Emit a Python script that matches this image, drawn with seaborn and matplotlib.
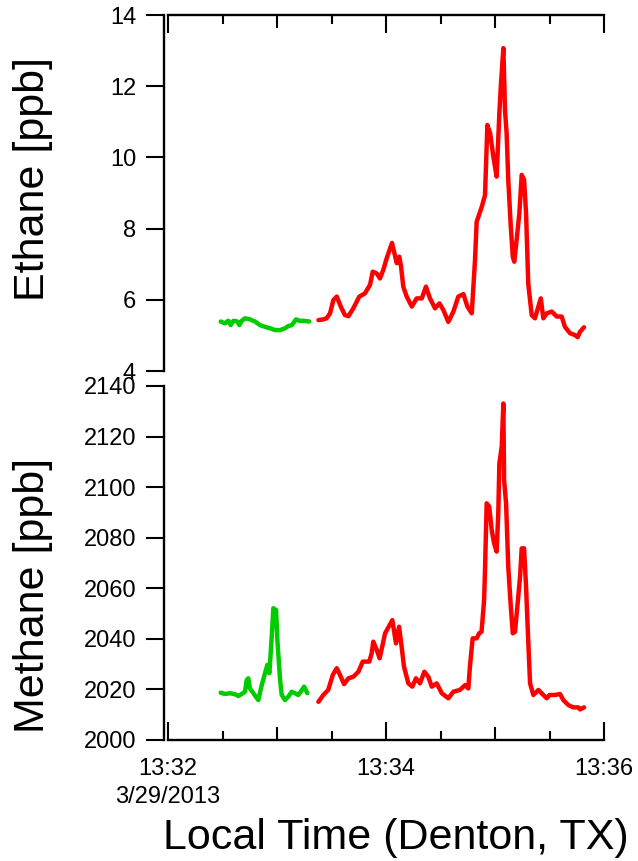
import datetime as dt
import pandas as pd
import matplotlib
matplotlib.use("Agg")
import matplotlib.pyplot as plt
import matplotlib.dates as mdates
import matplotlib.ticker as mticker
import seaborn as sns

# seconds after 13:32:00 on 3/29/2013, values in ppb
eth_green_t = [29.0, 31.4, 33.2, 34.5, 36.0, 38.2, 39.3, 40.6, 42.4, 45.1, 47.9, 50.6, 53.4,
               56.2, 58.9, 61.7, 64.4, 66.2, 68.1, 70.5, 72.3, 74.5, 77.8]
eth_green_v = [5.39, 5.34, 5.41, 5.29, 5.41, 5.39, 5.29, 5.41, 5.48, 5.45, 5.39, 5.29, 5.24,
               5.20, 5.15, 5.15, 5.20, 5.26, 5.29, 5.45, 5.41, 5.41, 5.39]

eth_red_t = [82.8, 85.5, 87.3, 89.2, 91.0, 92.9, 95.1, 97.4, 99.3, 102.0, 105.3, 108.4, 111.2,
             112.7, 114.9, 116.7, 118.5, 120.4, 123.3, 125.9, 127.3, 128.3, 129.5, 131.4, 134.2,
             136.9, 139.7, 142.0, 144.2, 147.0, 149.4, 151.6, 154.3, 157.1, 159.8, 162.6, 164.8,
             167.2, 169.0, 169.9, 172.7, 174.5, 175.8, 177.3, 179.1, 180.9, 182.4, 183.3, 184.6,
             185.5, 186.4, 187.3, 188.7, 189.8, 190.6, 191.9, 193.4, 194.7, 196.0, 197.1, 198.3,
             200.2, 202.0, 203.3, 205.2, 206.6, 208.5, 211.2, 214.0, 216.7, 218.5, 221.3, 224.0,
             225.5, 226.8, 229.0]
eth_red_v = [5.43, 5.45, 5.48, 5.62, 5.99, 6.09, 5.81, 5.57, 5.54, 5.76, 6.09, 6.18, 6.42,
             6.79, 6.74, 6.60, 6.84, 7.17, 7.60, 7.03, 7.21, 6.93, 6.37, 6.09, 5.81,
             6.04, 6.04, 6.37, 6.04, 5.76, 5.90, 5.71, 5.38, 5.67, 6.09, 6.16, 5.81,
             5.62, 7.12, 8.19, 8.61, 8.94, 10.91, 10.68, 10.02, 9.46, 11.24, 12.08, 13.07,
             11.33, 10.68, 9.37, 8.05, 7.21, 7.07, 7.68, 8.43, 9.51, 9.37, 8.43, 6.46,
             5.57, 5.48, 5.71, 6.04, 5.48, 5.62, 5.67, 5.53, 5.53, 5.24, 5.06, 5.01,
             4.95, 5.10, 5.23]

met_green_t = [29.0, 31.4, 34.1, 36.9, 38.7, 40.6, 42.4, 43.3, 44.2, 45.1, 47.0, 49.7, 51.6,
               53.4, 54.7, 55.8, 57.1, 58.0, 59.5, 60.2, 61.7, 62.6, 64.4, 66.2, 68.1, 69.9,
               71.7, 73.1, 74.9, 76.7]
met_green_v = [2018.7, 2018.2, 2018.5, 2018.1, 2017.4, 2018.2, 2019.1, 2023.7, 2024.4, 2020.4,
               2018.5, 2015.8, 2021.7, 2026.4, 2029.7, 2026.4, 2040.8, 2052.1, 2051.4, 2039.5,
               2023.7, 2017.8, 2015.8, 2017.1, 2019.1, 2018.5, 2017.8, 2019.1, 2021.1, 2018.5]

met_red_t = [82.8, 85.5, 88.2, 90.7, 92.9, 94.7, 96.9, 99.3, 102.0, 104.8, 107.2, 110.8, 112.1,
             113.0, 114.9, 116.5, 119.5, 123.5, 125.5, 127.2, 128.6, 129.9, 132.3, 134.5, 136.5,
             138.7, 141.1, 143.3, 145.2, 147.9, 150.7, 154.3, 157.1, 160.7, 163.5, 165.3, 166.2,
             167.7, 169.9, 171.3, 172.6, 174.0, 174.5, 175.4, 176.8, 178.2, 179.5, 180.9, 181.8,
             182.4, 183.7, 184.6, 185.0, 186.1, 187.3, 188.7, 189.8, 191.0, 192.3, 193.8, 194.7,
             196.0, 197.1, 198.2, 199.3, 201.1, 203.9, 206.6, 208.5, 210.0, 213.0, 215.8, 217.6,
             220.4, 223.1, 225.9, 226.8, 229.0]
met_red_v = [2015.1, 2017.8, 2019.8, 2025.7, 2028.4, 2025.7, 2022.1, 2024.4, 2025.0, 2027.0,
             2031.0, 2031.0, 2034.3, 2038.9, 2035.6, 2032.3, 2042.2, 2047.4, 2038.2, 2044.8,
             2036.9, 2029.0, 2022.4, 2021.1, 2024.4, 2022.4, 2027.0, 2025.0, 2021.1, 2022.4,
             2018.5, 2016.5, 2019.1, 2019.8, 2021.7, 2020.4, 2029.0, 2040.2, 2040.2, 2042.2,
             2042.8, 2055.4, 2067.2, 2093.6, 2092.3, 2083.0, 2077.8, 2074.5, 2089.6, 2109.4,
             2116.0, 2133.1, 2102.8, 2093.6, 2068.5, 2052.7, 2042.2, 2042.8, 2052.7, 2064.6,
             2075.8, 2075.8, 2060.6, 2040.8, 2022.4, 2017.8, 2019.8, 2017.8, 2016.5, 2017.8,
             2017.8, 2018.2, 2015.8, 2013.8, 2012.9, 2012.9, 2012.1, 2012.9]

eth_ticks = [4, 6, 8, 10, 12, 14]
met_ticks = [2000, 2020, 2040, 2060, 2080, 2100, 2120, 2140]

T0 = dt.datetime(2013, 3, 29, 13, 32, 0)
T1 = dt.datetime(2013, 3, 29, 13, 36, 0)


def to_frame(secs, vals):
    return pd.DataFrame({"time": [T0 + dt.timedelta(seconds=s) for s in secs], "ppb": vals})


sns.set_style("ticks")
plt.rcParams["font.family"] = ["Liberation Sans", "DejaVu Sans"]
for key in ["text.color", "axes.labelcolor", "xtick.color", "ytick.color", "axes.edgecolor"]:
    plt.rcParams[key] = "black"

W, H = 638, 861
fig = plt.figure(figsize=(W / 100, H / 100), dpi=100)
ax1 = fig.add_axes([168 / W, 1 - 371 / H, 436 / W, 356 / H])
ax2 = fig.add_axes([168 / W, 1 - 740 / H, 436 / W, 354 / H])

GREEN = "#00cc00"
RED = "#ff0000"
LW = 3.2
sns.lineplot(data=to_frame(eth_green_t, eth_green_v), x="time", y="ppb", ax=ax1, color=GREEN, lw=LW)
sns.lineplot(data=to_frame(eth_red_t, eth_red_v), x="time", y="ppb", ax=ax1, color=RED, lw=LW)
sns.lineplot(data=to_frame(met_green_t, met_green_v), x="time", y="ppb", ax=ax2, color=GREEN, lw=LW)
sns.lineplot(data=to_frame(met_red_t, met_red_v), x="time", y="ppb", ax=ax2, color=RED, lw=LW)


def fmt_time(x, pos):
    d = mdates.num2date(x)
    s = d.strftime("%H:%M")
    if d.minute == 32:
        s += "\n3/29/2013"
    return s


for ax, ticks in [(ax1, eth_ticks), (ax2, met_ticks)]:
    ax.set_xlim(T0, T1)
    ax.set_ylim(ticks[0], ticks[-1])
    ax.set_yticks(ticks)
    ax.set_xlabel("")
    ax.set_ylabel("")
    ax.xaxis.set_major_locator(mdates.MinuteLocator(byminute=range(0, 60, 2)))
    ax.xaxis.set_minor_locator(mdates.SecondLocator(bysecond=[0, 30]))
    ax.xaxis.set_major_formatter(mticker.FuncFormatter(fmt_time))
    ax.spines["right"].set_visible(False)
    ax.spines["left"].set_position(("outward", 3))
    for sp in ax.spines.values():
        sp.set_linewidth(1.7)
    ax.tick_params(axis="y", direction="out", length=13, width=1.5, labelsize=17, pad=7)
    ax.tick_params(axis="x", which="major", direction="in", length=13, width=1.5, labelsize=17, pad=13)
    ax.tick_params(axis="x", which="minor", direction="in", length=6.5, width=1.5)
    for line in ax.lines:
        line.set_solid_joinstyle("round")
        line.set_solid_capstyle("round")

ax1.spines["bottom"].set_visible(False)
ax1.xaxis.tick_top()
ax1.tick_params(axis="x", which="both", labeltop=False, labelbottom=False)
ax2.spines["top"].set_visible(False)

for lab in ax2.get_xticklabels():
    lab.set_linespacing(1.35)

fig.text(33 / W, 1 - 179 / H, "Ethane [ppb]", rotation=90, ha="center", va="center", fontsize=31)
fig.text(33 / W, 1 - 595 / H, "Methane [ppb]", rotation=90, ha="center", va="center", fontsize=31)
fig.text(396 / W, 1 - 838 / H, "Local Time (Denton, TX)", ha="center", va="center", fontsize=31)

# whole-minute minor ticks a little longer than the 30 s ones
fig.canvas.draw()
for ax in (ax1, ax2):
    locs = ax.xaxis.get_minorticklocs()
    for loc, tick in zip(locs, ax.xaxis.get_minor_ticks()):
        if mdates.num2date(loc).second == 0:
            tick.tick1line.set_markersize(9.5)
            tick.tick2line.set_markersize(9.5)

fig.savefig("out.png", dpi=100)
